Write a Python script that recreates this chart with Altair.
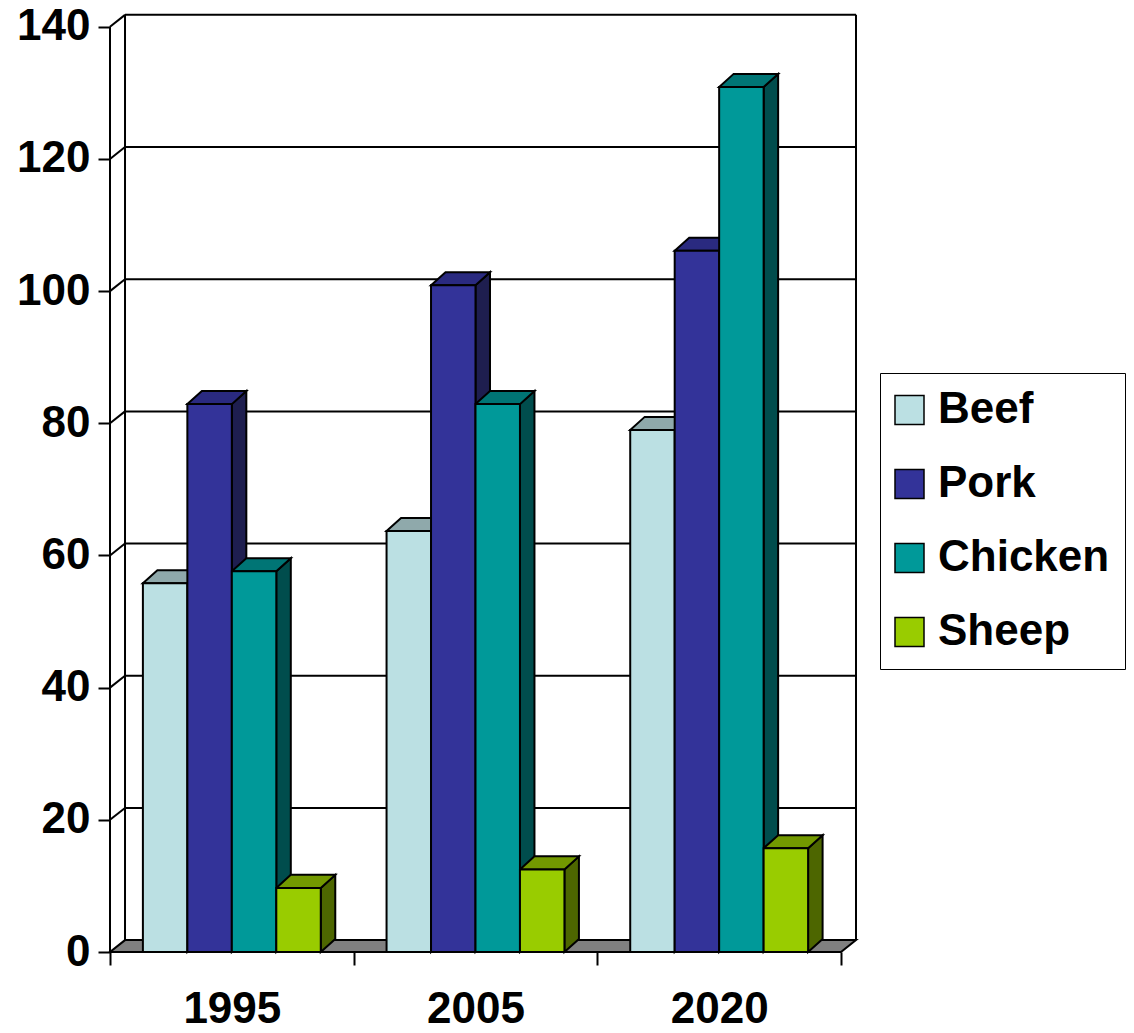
import altair as alt
import pandas as pd

# ---- data ----
years = ["1995", "2005", "2020"]
series = ["Beef", "Pork", "Chicken", "Sheep"]
beef = [55.8, 63.7, 79.0]
pork = [82.9, 100.9, 106.1]
chicken = [57.6, 82.9, 130.9]
sheep = [9.7, 12.5, 15.7]
y_ticks = [0, 20, 40, 60, 80, 100, 120, 140]

# ---- styles ----
front_colors = ["#BBE0E3", "#333399", "#009999", "#99CC00"]
top_colors = ["#8FA9AB", "#2A2A80", "#007575", "#739900"]
side_colors = ["#5E7A7C", "#1E1E4F", "#004D4D", "#4D6600"]
floor_color = "#808080"
FONT = "Liberation Sans"

GROUP_PAD = 0.135      # gap inside each category band (x units)
BAR_W = 0.1825         # bar width (x units)
BAR_DX = 0.0595        # bar depth projection, x units
BAR_DY = 1.97          # bar depth projection, y units
WALL_DX = 0.0616       # wall depth projection, x units
WALL_DY = 1.8          # wall depth projection, y units
X_MAX = 3.0616
Y_MAX = 141.93

values = [beef, pork, chicken, sheep]
n_groups = len(years)

front_rows, side_rows, top_rows = [], [], []
for g in range(n_groups):
    for s, name in enumerate(series):
        v = values[s][g]
        xl = g + GROUP_PAD + s * BAR_W
        xr = xl + BAR_W
        bid = f"{g}-{s}"
        front_rows.append(dict(x=xl, x2=xr, y=0, y2=v, series=name))
        side_rows += [
            dict(x=xr, y=0, y2=v, bar=bid, c=side_colors[s]),
            dict(x=xr + BAR_DX, y=BAR_DY, y2=v + BAR_DY, bar=bid, c=side_colors[s]),
        ]
        top_rows += [
            dict(x=xl, y=v, y2=v, bar=bid, c=top_colors[s]),
            dict(x=xl + BAR_DX, y=v, y2=v + BAR_DY, bar=bid, c=top_colors[s]),
            dict(x=xr, y=v, y2=v + BAR_DY, bar=bid, c=top_colors[s]),
            dict(x=xr + BAR_DX, y=v + BAR_DY, y2=v + BAR_DY, bar=bid, c=top_colors[s]),
        ]

floor_rows = [
    dict(x=0, y=0, y2=0),
    dict(x=WALL_DX, y=0, y2=WALL_DY),
    dict(x=n_groups, y=0, y2=WALL_DY),
    dict(x=n_groups + WALL_DX, y=WALL_DY, y2=WALL_DY),
]

top_v = y_ticks[-1]
rule_rows = [
    dict(x=0, x2=0, y=0, y2=top_v),
    dict(x=WALL_DX, x2=WALL_DX, y=WALL_DY, y2=top_v + WALL_DY),
    dict(x=n_groups + WALL_DX, x2=n_groups + WALL_DX, y=WALL_DY, y2=top_v + WALL_DY),
]
for v in y_ticks[1:]:
    rule_rows.append(dict(x=WALL_DX, x2=n_groups + WALL_DX, y=v + WALL_DY, y2=v + WALL_DY))
    rule_rows.append(dict(x=0, x2=WALL_DX, y=v, y2=v + WALL_DY))

front_df = pd.DataFrame(front_rows)
side_df = pd.DataFrame(side_rows)
top_df = pd.DataFrame(top_rows)
floor_df = pd.DataFrame(floor_rows)
rule_df = pd.DataFrame(rule_rows)

# ---- axes ----
year_arr = "[" + ",".join(f"'{y}'" for y in years) + "]"
x_axis = alt.Axis(
    values=[i * 0.5 for i in range(2 * n_groups + 1)],
    labelExpr=f"datum.value % 1 == 0.5 ? {year_arr}[floor(datum.value)] : ''",
    tickOpacity={"condition": {"test": "datum.value % 1 != 0", "value": 0}, "value": 1},
    domain=False, grid=False, tickSize=13, tickWidth=2, tickColor="black",
    labelFontSize=44, labelFont=FONT, labelFontWeight="bold", labelColor="black",
    labelPadding=22, labelOverlap=False, labelFlush=False, title=None,
)
y_axis = alt.Axis(
    values=y_ticks, domain=False, grid=False, tickSize=12, tickWidth=2,
    tickColor="black", labelFontSize=44, labelFont=FONT, labelFontWeight="bold",
    labelColor="black", labelPadding=8, labelOverlap=False, format="d", title=None,
)

X = alt.X("x:Q", scale=alt.Scale(domain=[0, X_MAX], nice=False, zero=False), axis=x_axis)
Y = alt.Y("y:Q", scale=alt.Scale(domain=[0, Y_MAX], nice=False), axis=y_axis)

floor = alt.Chart(floor_df).mark_area(
    fill=floor_color, stroke="black", strokeWidth=2, opacity=1
).encode(x=X, y=Y, y2=alt.Y2("y2"))

rules = alt.Chart(rule_df).mark_rule(color="black", strokeWidth=2).encode(
    x=X, x2=alt.X2("x2"), y=Y, y2=alt.Y2("y2")
)

sides = alt.Chart(side_df).mark_area(stroke="black", strokeWidth=2, opacity=1).encode(
    x=X, y=Y, y2=alt.Y2("y2"), detail="bar:N", fill=alt.Fill("c:N", scale=None)
)

tops = alt.Chart(top_df).mark_area(stroke="black", strokeWidth=2, opacity=1).encode(
    x=X, y=Y, y2=alt.Y2("y2"), detail="bar:N", fill=alt.Fill("c:N", scale=None)
)

fronts = alt.Chart(front_df).mark_rect(stroke="black", strokeWidth=2, opacity=1).encode(
    x=X, x2=alt.X2("x2"), y=Y, y2=alt.Y2("y2"),
    color=alt.Color(
        "series:N",
        scale=alt.Scale(domain=series, range=front_colors),
        legend=alt.Legend(
            orient="none", legendX=770, legendY=359, title=None,
            symbolType="square", symbolSize=841, symbolStrokeColor="black",
            symbolStrokeWidth=1.5, symbolOpacity=1, symbolOffset=-7.5,
            labelFontSize=44, labelFont=FONT, labelFontWeight="bold",
            labelColor="black", labelOffset=6.5, labelLimit=0,
            rowPadding=30, padding=15,
            strokeColor="black", fillColor="white",
        ),
    ),
)

chart = (
    alt.layer(floor, rules, sides, tops, fronts)
    .properties(
        width=746,
        height=938,
        padding={"left": 110, "top": 14, "right": 278, "bottom": 81},
        autosize=alt.AutoSizeParams(type="none"),
        background="white",
    )
    .configure_view(strokeWidth=0)
)

chart.save("out.html", embed_options={"renderer": "svg", "actions": False})
